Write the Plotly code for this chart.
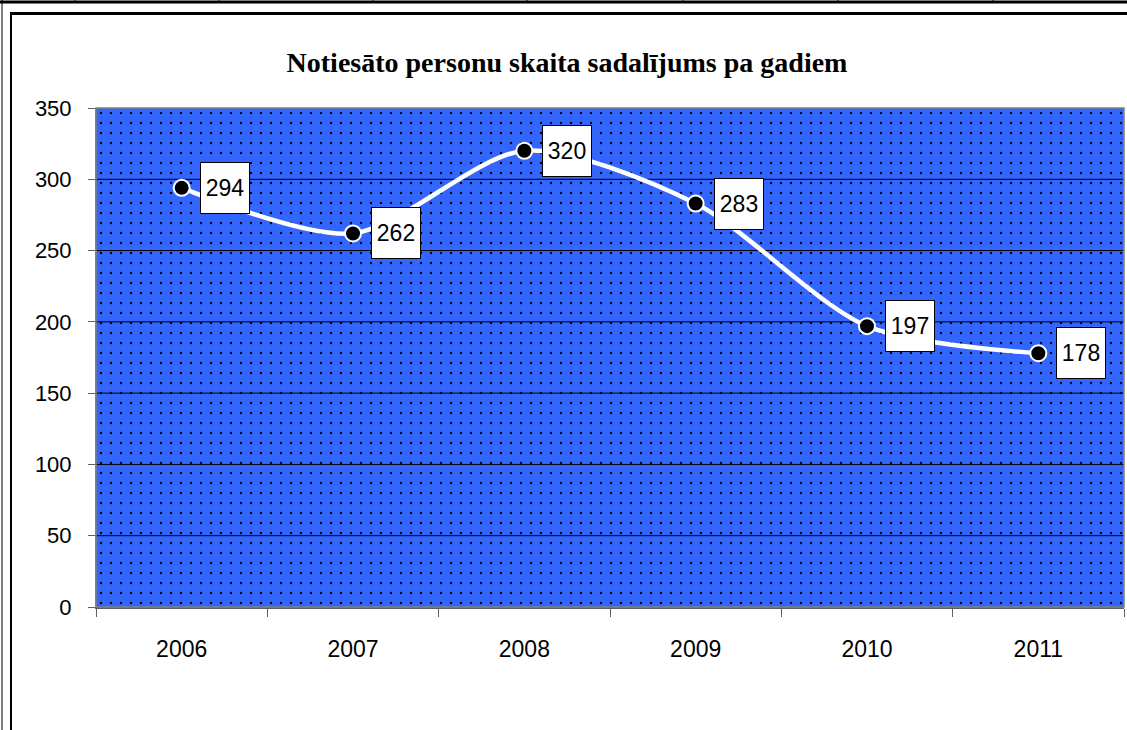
import plotly.graph_objects as go

years = ["2006", "2007", "2008", "2009", "2010", "2011"]
values = [294, 262, 320, 283, 197, 178]
y_ticks = [0, 50, 100, 150, 200, 250, 300, 350]
title = "Notiesāto personu skaita sadalījums pa gadiem"

W, H = 1127, 730
ML, MR, MT, MB = 96, 3, 108, 123
pw, ph = W - ML - MR, H - MT - MB

def px(x):
    return (x - ML) / pw

def py(y):
    return (H - MB - y) / ph

idx = list(range(len(years)))
x_lo, x_hi = -0.5, len(years) - 0.5
y_lo, y_hi = y_ticks[0], y_ticks[-1]

fig = go.Figure()

# patterned plot-area background (blue with black dots)
fig.add_trace(go.Scatter(
    x=[x_lo, x_hi, x_hi, x_lo, x_lo], y=[y_lo, y_lo, y_hi, y_hi, y_lo],
    fill="toself", mode="none", hoverinfo="skip", showlegend=False,
    fillcolor="#3366ff",
    fillpattern=dict(shape=".", bgcolor="#3366ff", fgcolor="#000000",
                     size=10, solidity=0.045, fillmode="replace"),
))

# horizontal gridlines drawn over the pattern
gx, gy = [], []
for t in y_ticks[1:-1]:
    gx += [x_lo, x_hi, None]
    gy += [t, t, None]
fig.add_trace(go.Scatter(x=gx, y=gy, mode="lines", line=dict(color="black", width=1),
                         hoverinfo="skip", showlegend=False))

fig.add_trace(go.Scatter(
    x=idx, y=values, mode="lines+markers",
    line=dict(color="white", width=4.5, shape="spline", smoothing=0.8),
    marker=dict(color="black", size=16, line=dict(color="white", width=2)),
    showlegend=False, hoverinfo="skip",
))

for i, v in zip(idx, values):
    fig.add_annotation(
        x=i, y=v, text=str(v), showarrow=False, xanchor="left", yanchor="middle",
        xshift=18, bgcolor="white", bordercolor="black", borderwidth=1,
        width=48, height=50, borderpad=0,
        font=dict(family="Arial, Liberation Sans", size=23, color="black"),
    )

shapes = []
black = "black"
shapes.append(dict(type="line", xref="paper", yref="paper", x0=px(0), x1=px(W), y0=py(2), y1=py(2), line=dict(color=black, width=3)))
for sx in [75, 219, 373, 527, 683, 838, 993]:
    shapes.append(dict(type="line", xref="paper", yref="paper", x0=px(sx), x1=px(sx), y0=py(0), y1=py(3), line=dict(color=black, width=1)))
shapes.append(dict(type="line", xref="paper", yref="paper", x0=px(2), x1=px(2), y0=py(0), y1=py(H), line=dict(color=black, width=1)))
shapes.append(dict(type="line", xref="paper", yref="paper", x0=px(11), x1=px(W), y0=py(13.5), y1=py(13.5), line=dict(color=black, width=3)))
shapes.append(dict(type="line", xref="paper", yref="paper", x0=px(11), x1=px(11), y0=py(12), y1=py(H), line=dict(color=black, width=2)))
shapes.append(dict(type="rect", xref="paper", yref="paper", x0=0, x1=1, y0=0, y1=1, line=dict(color="#808080", width=1.5), layer="above"))

fig.update_layout(
    width=W, height=H,
    margin=dict(l=ML, r=MR, t=MT, b=MB),
    paper_bgcolor="white", plot_bgcolor="#3366ff",
    title=dict(text="<b>" + title + "</b>", x=567 / W, xanchor="center",
               y=1 - 62 / H, yanchor="middle",
               font=dict(family="Liberation Serif, Times New Roman", size=28, color="black")),
    shapes=shapes,
    xaxis=dict(range=[x_lo, x_hi], tickvals=idx, ticktext=years, ticks="",
               showgrid=False, zeroline=False,
               minor=dict(tickvals=[i - 0.5 for i in idx] + [x_hi], ticks="outside", ticklen=8,
                          tickcolor="#606060", showgrid=False),
               showline=True, linecolor="#606060", linewidth=1.5,
               ticklabelstandoff=21,
               tickfont=dict(family="Arial, Liberation Sans", size=23, color="black")),
    yaxis=dict(range=[y_lo, y_hi], tickvals=y_ticks, showgrid=False,
               zeroline=False, ticks="outside", ticklen=7, tickcolor="#606060",
               showline=True, linecolor="#808080", linewidth=1,
               ticklabelstandoff=12,
               tickfont=dict(family="Arial, Liberation Sans", size=22, color="black")),
)

fig.write_html("out.html", config={"displayModeBar": False},
               post_script="document.body.style.margin='0';document.body.style.overflow='hidden';")
